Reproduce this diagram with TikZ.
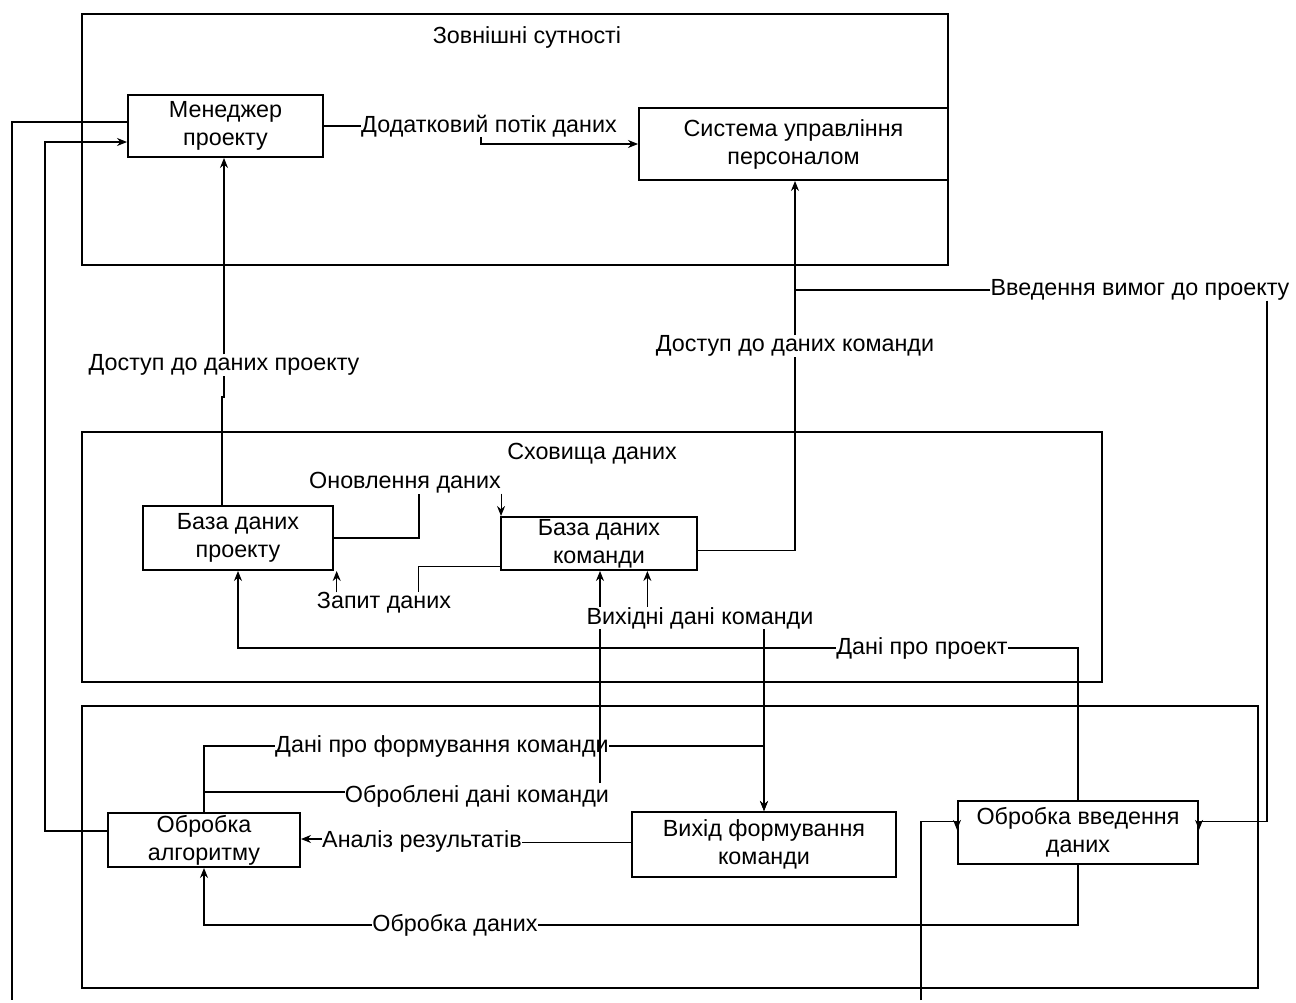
\documentclass[tikz,border=0pt]{standalone}
\usepackage{fontspec}
\setmainfont{Liberation Sans}
\usetikzlibrary{arrows.meta,calc}
\begin{document}
\begin{tikzpicture}[x=0.75pt,y=-0.75pt,
  font=\fontsize{17.5}{21}\selectfont,
  box/.style={draw,line width=1.5pt,align=center,inner sep=0pt},
  cont/.style={draw,line width=1.5pt,inner sep=0pt},
  lbl/.style={inner sep=0pt,align=center},
  conn/.style={line width=0.8pt},
  arr/.style={conn,-{Stealth[length=7.5pt,width=6pt]}}]
\useasboundingbox (0,0) rectangle (1296,1003);
% containers
\node[cont,minimum width=649.5pt,minimum height=188.25pt] (top) at (515,139.5) {};
\node[cont,minimum width=765pt,minimum height=187.5pt] (mid) at (592,557) {};
\node[cont,minimum width=882pt,minimum height=211.5pt] (bot) at (670,847) {};
\node[lbl] (toptitle) at (527,37) {Зовнішні сутності};
\node[lbl] (midtitle) at (592,454) {Сховища даних};
% boxes
\node[box,minimum width=146.25pt,minimum height=46.5pt] (mgr) at (225.5,126) {Менеджер\\проекту};
\node[box,minimum width=231.75pt,minimum height=54pt] (sys) at (793.5,144) {Система управління\\персоналом};
\node[box,minimum width=142.5pt,minimum height=48pt] (bdp) at (238,538) {База даних\\проекту};
\node[box,minimum width=147pt,minimum height=39.75pt] (bdk) at (599,543.5) {База даних\\команди};
\node[box,minimum width=144pt,minimum height=40.5pt] (alg) at (204,840) {Обробка\\алгоритму};
\node[box,minimum width=198pt,minimum height=48.75pt] (vyh) at (764,844.5) {Вихід формування\\команди};
\node[box,minimum width=180pt,minimum height=47.25pt] (vved) at (1078,832.5) {Обробка введення\\даних};
% labels
\node[lbl] (ldod) at (489,126) {Додатковий потік даних};
\node[lbl] (ldpp) at (224,365) {Доступ до даних проекту};
\node[lbl] (ldkk) at (795,346) {Доступ до даних команди};
\node[lbl] (lvv) at (1140,290) {Введення вимог до проекту};
\node[lbl] (lonov) at (405,483) {Оновлення даних};
\node[lbl] (lzap) at (384,603) {Запит даних};
\node[lbl] (lvyh) at (700,618) {Вихідні дані команди};
\node[lbl] (ldpr) at (922,648) {Дані про проект};
\node[lbl] (ldfk) at (442,746) {Дані про формування команди};
\node[lbl] (lobr) at (477,796) {Оброблені дані команди};
\node[lbl] (lan) at (422,841) {Аналіз результатів};
\node[lbl] (lod) at (455,925) {Обробка даних};
% free ends and helper points
\coordinate (c1) at (12,1000);
\coordinate (c2) at (921,1000);
\coordinate (c3) at (600,783);
\path ([xshift=45.75pt]lvyh.north west) coordinate (v2);
\path (lonov.south east) coordinate (onse);
\path ([xshift=15pt]lzap.north west) coordinate (zq);
% connectors
\draw[conn] ([yshift=3pt]mgr.west) -| (c1);
\draw[arr] ([yshift=6.75pt]alg.west) -- ++(-62,0) |- ([yshift=-12pt]mgr.west);
\draw[conn] (mgr.east) -- (ldod.west);
\draw[arr] ([xshift=-6pt]ldod.south) |- (sys.west);
\draw[conn] ([xshift=-12pt]bdp.north) -- ++(0,-108) -| (ldpp.south);
\draw[arr] (ldpp.north) -- (ldpp.north |- mgr.south);
\draw[conn] ([yshift=-4.9pt]bdk.east) -| (ldkk.south);
\draw[arr] (ldkk.north) -- (ldkk.north |- sys.south);
\draw[conn] (lvv.west) -- (lvv.west -| ldkk.north);
\draw[arr] ([xshift=-17pt]lvv.south east) |- ([yshift=8pt]vved.east) -- ([yshift=2pt]vved.east);
\draw[arr] (c2) |- ([yshift=8pt]vved.west) -- ([yshift=2pt]vved.west);
\draw[conn] (vved.north) |- (ldpr.east);
\draw[arr] (ldpr.west) -| (bdp.south);
\draw[conn] (vved.south) |- (lod.east);
\draw[arr] (lod.west) -| (alg.south);
\draw[conn] ([yshift=1.2pt]vyh.west) -- ([yshift=1.2pt]vyh.west -| lan.east);
\draw[arr] ([yshift=1.5pt]lan.west) -- ([yshift=1.5pt]lan.west -| alg.east);
\draw[conn] (alg.north) |- (ldfk.west);
\draw[arr] (ldfk.east) -| (vyh.north);
\draw[conn] ([yshift=3pt]lobr.west) -- ([yshift=3pt]lobr.west -| alg.north);
\draw[conn] (c3) -- (c3 |- lvyh.south);
\draw[arr] (c3 |- lvyh.north) -- (c3 |- bdk.south);
\draw[arr] (v2) -- (v2 |- bdk.south);
\draw[arr] (vyh.north |- lvyh.south) -- (vyh.north);
\draw[conn] (bdp.east) -| ([xshift=10.5pt]lonov.south);
\draw[arr] (onse) -- (onse |- bdk.north);
\draw[conn] ([yshift=-16.9pt]bdk.west) -| ([xshift=26pt]lzap.north);
\draw[arr] (zq) -- (zq |- bdp.south);
\end{tikzpicture}
\end{document}
